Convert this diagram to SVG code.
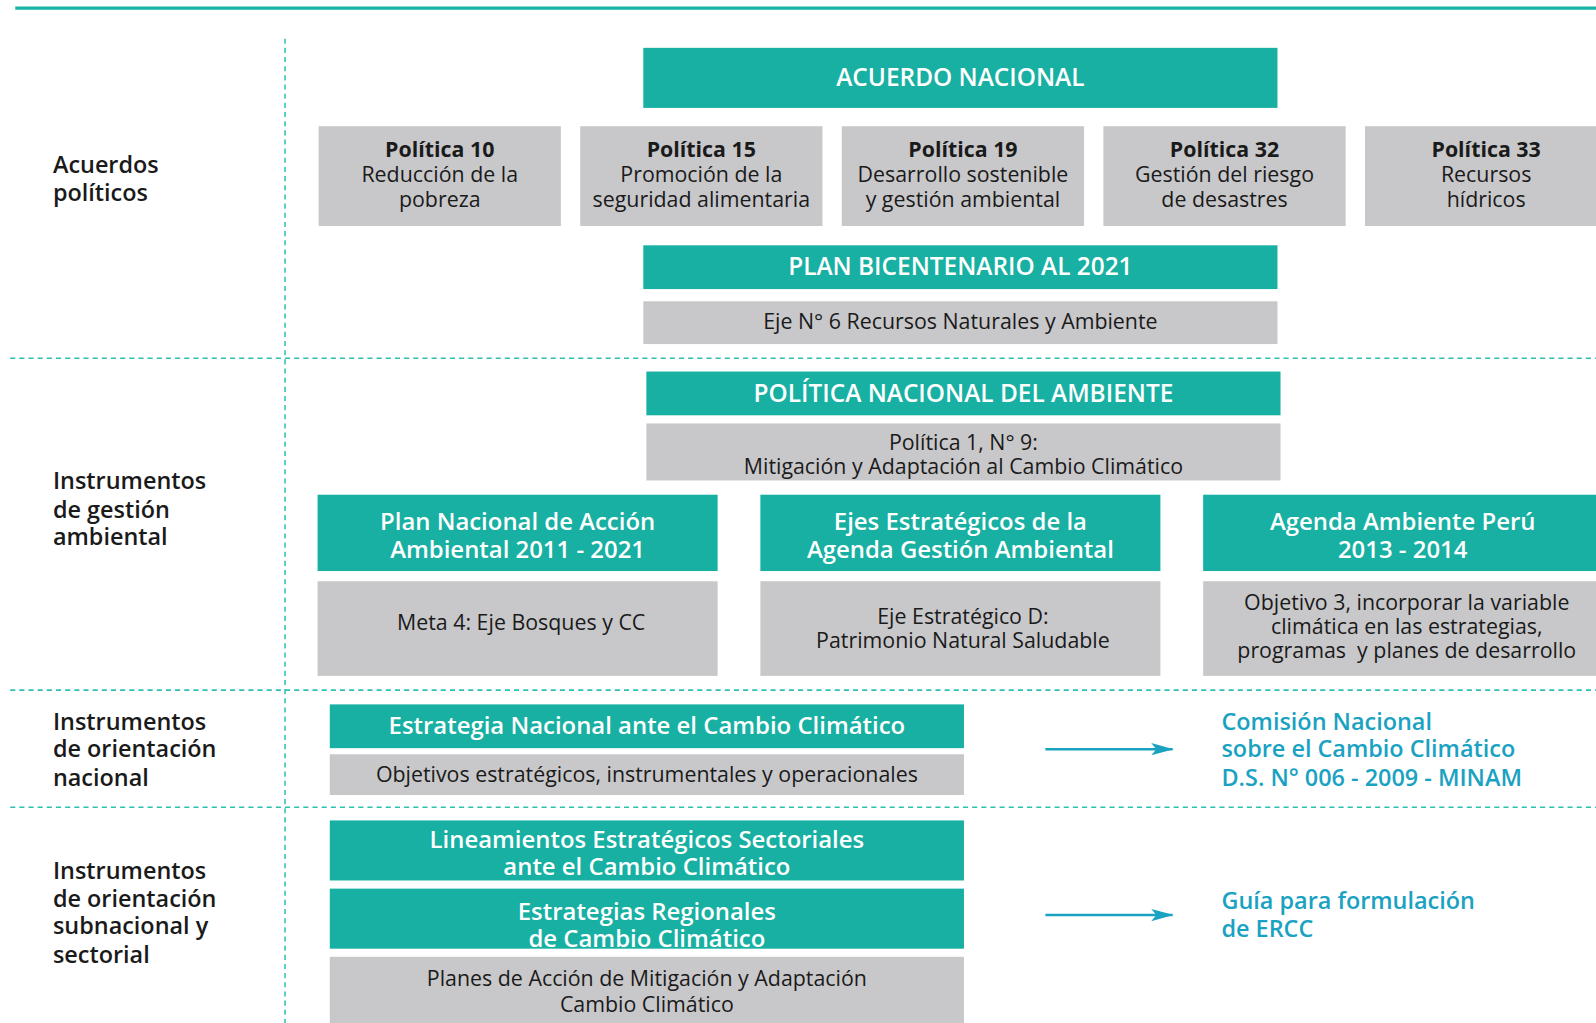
<svg xmlns="http://www.w3.org/2000/svg" width="1596" height="1023" viewBox="0 0 1596 1023">
<style>
  .teal { fill: #17b0a2; }
  .gray { fill: #c8c8ca; }
  .tw { fill: #ffffff; font-family: "Open Sans", "Liberation Sans", sans-serif; font-weight: 600; text-anchor: middle; dominant-baseline: central; font-size: 23.5px; }
  .cap { font-size: 24px; }
  .tb { fill: #1a1a1a; font-family: "Open Sans", "Liberation Sans", sans-serif; font-weight: 400; text-anchor: middle; dominant-baseline: central; font-size: 21px; }
  .bold { font-weight: 700; }
  .lbl { fill: #1a1a1a; font-family: "Open Sans", "Liberation Sans", sans-serif; font-weight: 600; font-size: 23px; dominant-baseline: central; }
  .blue { fill: #1aa2c2; font-family: "Open Sans", "Liberation Sans", sans-serif; font-weight: 600; font-size: 23px; dominant-baseline: central; }
  .dash { stroke: #2ec0b2; stroke-width: 1.5; stroke-dasharray: 5 4; fill: none; }
  .arrow { stroke: #1aa2c2; stroke-width: 2.5; fill: none; marker-end: url(#ah); }
</style>
<defs>
  <marker id="ah" markerWidth="22" markerHeight="12" refX="21" refY="6" orient="auto" markerUnits="userSpaceOnUse">
    <path d="M0,0 L22,6 L0,12 L5,6 Z" fill="#1aa2c2"/>
  </marker>
</defs>
<rect width="1596" height="1023" fill="#ffffff"/>
<g transform="scale(1.0179)">
  <g id="grid">
    <line x1="15" y1="8" x2="1570" y2="8" stroke="#1ab3a4" stroke-width="3"/>
    <line class="dash" x1="280" y1="38" x2="280" y2="1006"/>
    <line class="dash" x1="10" y1="352" x2="1570" y2="352"/>
    <line class="dash" x1="10" y1="678" x2="1570" y2="678"/>
    <line class="dash" x1="10" y1="793" x2="1570" y2="793"/>
  </g>
  <g id="labels">
    <text class="lbl"><tspan x="52" y="161">Acuerdos</tspan><tspan x="52" y="189">políticos</tspan></text>
    <text class="lbl"><tspan x="52" y="472">Instrumentos</tspan><tspan x="52" y="500">de gestión</tspan><tspan x="52" y="527">ambiental</tspan></text>
    <text class="lbl"><tspan x="52" y="708">Instrumentos</tspan><tspan x="52" y="735">de orientación</tspan><tspan x="52" y="763">nacional</tspan></text>
    <text class="lbl"><tspan x="52" y="855">Instrumentos</tspan><tspan x="52" y="882">de orientación</tspan><tspan x="52" y="909">subnacional y</tspan><tspan x="52" y="937">sectorial</tspan></text>
  </g>
  <g id="acuerdo-nacional">
    <rect class="teal" x="632" y="47" width="623" height="59"/>
    <text class="tw cap" x="943.5" y="75">ACUERDO NACIONAL</text>
  </g>
  <g id="politica10">
    <rect class="gray" x="313" y="124" width="238" height="98"/>
    <text class="tb"><tspan class="bold" x="432" y="145">Política 10</tspan><tspan x="432" y="170">Reducción de la</tspan><tspan x="432" y="195">pobreza</tspan></text>
  </g>
  <g id="politica15">
    <rect class="gray" x="570" y="124" width="238" height="98"/>
    <text class="tb"><tspan class="bold" x="689" y="145">Política 15</tspan><tspan x="689" y="170">Promoción de la</tspan><tspan x="689" y="195">seguridad alimentaria</tspan></text>
  </g>
  <g id="politica19">
    <rect class="gray" x="827" y="124" width="238" height="98"/>
    <text class="tb"><tspan class="bold" x="946" y="145">Política 19</tspan><tspan x="946" y="170">Desarrollo sostenible</tspan><tspan x="946" y="195">y gestión ambiental</tspan></text>
  </g>
  <g id="politica32">
    <rect class="gray" x="1084" y="124" width="238" height="98"/>
    <text class="tb"><tspan class="bold" x="1203" y="145">Política 32</tspan><tspan x="1203" y="170">Gestión del riesgo</tspan><tspan x="1203" y="195">de desastres</tspan></text>
  </g>
  <g id="politica33">
    <rect class="gray" x="1341" y="124" width="240" height="98"/>
    <text class="tb"><tspan class="bold" x="1460" y="145">Política 33</tspan><tspan x="1460" y="170">Recursos</tspan><tspan x="1460" y="195">hídricos</tspan></text>
  </g>
  <g id="plan-bicentenario">
    <rect class="teal" x="632" y="241" width="623" height="43"/>
    <text class="tw cap" x="943.5" y="261">PLAN BICENTENARIO AL 2021</text>
  </g>
  <g id="eje6">
    <rect class="gray" x="632" y="296" width="623" height="42"/>
    <text class="tb" x="943.5" y="315">Eje N° 6 Recursos Naturales y Ambiente</text>
  </g>
  <g id="politica-nacional-ambiente">
    <rect class="teal" x="635" y="365" width="623" height="43"/>
    <text class="tw cap" x="946.5" y="386">POLÍTICA NACIONAL DEL AMBIENTE</text>
  </g>
  <g id="politica1">
    <rect class="gray" x="635" y="416" width="623" height="56"/>
    <text class="tb"><tspan x="946.5" y="433">Política 1, N° 9:</tspan><tspan x="946.5" y="457">Mitigación y Adaptación al Cambio Climático</tspan></text>
  </g>
  <g id="plan-nacional-accion">
    <rect class="teal" x="312" y="486" width="393" height="75"/>
    <text class="tw"><tspan x="508.5" y="511">Plan Nacional de Acción</tspan><tspan x="508.5" y="538">Ambiental 2011 - 2021</tspan></text>
  </g>
  <g id="meta4">
    <rect class="gray" x="312" y="571" width="393" height="93"/>
    <text class="tb" x="512" y="611">Meta 4: Eje Bosques y CC</text>
  </g>
  <g id="ejes-estrategicos">
    <rect class="teal" x="747" y="486" width="393" height="75"/>
    <text class="tw"><tspan x="943.5" y="511">Ejes Estratégicos de la</tspan><tspan x="943.5" y="538">Agenda Gestión Ambiental</tspan></text>
  </g>
  <g id="eje-d">
    <rect class="gray" x="747" y="571" width="393" height="93"/>
    <text class="tb"><tspan x="946" y="604">Eje Estratégico D:</tspan><tspan x="946" y="628">Patrimonio Natural Saludable</tspan></text>
  </g>
  <g id="agenda-ambiente">
    <rect class="teal" x="1182" y="486" width="400" height="75"/>
    <text class="tw"><tspan x="1378" y="511">Agenda Ambiente Perú</tspan><tspan x="1378" y="538">2013 - 2014</tspan></text>
  </g>
  <g id="objetivo3">
    <rect class="gray" x="1182" y="571" width="400" height="93"/>
    <text class="tb" xml:space="preserve"><tspan x="1382" y="590">Objetivo 3, incorporar la variable</tspan><tspan x="1382" y="614">climática en las estrategias,</tspan><tspan x="1382" y="638">programas  y planes de desarrollo</tspan></text>
  </g>
  <g id="estrategia-nacional">
    <rect class="teal" x="324" y="692" width="623" height="43"/>
    <text class="tw" x="635.5" y="712">Estrategia Nacional ante el Cambio Climático</text>
  </g>
  <g id="objetivos">
    <rect class="gray" x="324" y="741" width="623" height="40"/>
    <text class="tb" x="635.5" y="760">Objetivos estratégicos, instrumentales y operacionales</text>
  </g>
  <g id="comision-nacional">
    <text class="blue"><tspan x="1200" y="708">Comisión Nacional</tspan><tspan x="1200" y="735">sobre el Cambio Climático</tspan><tspan x="1200" y="763">D.S. N° 006 - 2009 - MINAM</tspan></text>
  </g>
  <g id="lineamientos">
    <rect class="teal" x="324" y="806" width="623" height="59"/>
    <text class="tw"><tspan x="635.5" y="823">Lineamientos Estratégicos Sectoriales</tspan><tspan x="635.5" y="850">ante el Cambio Climático</tspan></text>
  </g>
  <g id="estrategias-regionales">
    <rect class="teal" x="324" y="873" width="623" height="59"/>
    <text class="tw"><tspan x="635.5" y="894">Estrategias Regionales</tspan><tspan x="635.5" y="921">de Cambio Climático</tspan></text>
  </g>
  <g id="planes-accion">
    <rect class="gray" x="324" y="940" width="623" height="70"/>
    <text class="tb"><tspan x="635.5" y="960">Planes de Acción de Mitigación y Adaptación</tspan><tspan x="635.5" y="985">Cambio Climático</tspan></text>
  </g>
  <g id="guia-ercc">
    <text class="blue"><tspan x="1200" y="884">Guía para formulación</tspan><tspan x="1200" y="912">de ERCC</tspan></text>
  </g>
  <g id="connectors">
    <line class="arrow" x1="1027" y1="736" x2="1152" y2="736"/>
    <line class="arrow" x1="1027" y1="899" x2="1152" y2="899"/>
  </g>
</g>
</svg>
